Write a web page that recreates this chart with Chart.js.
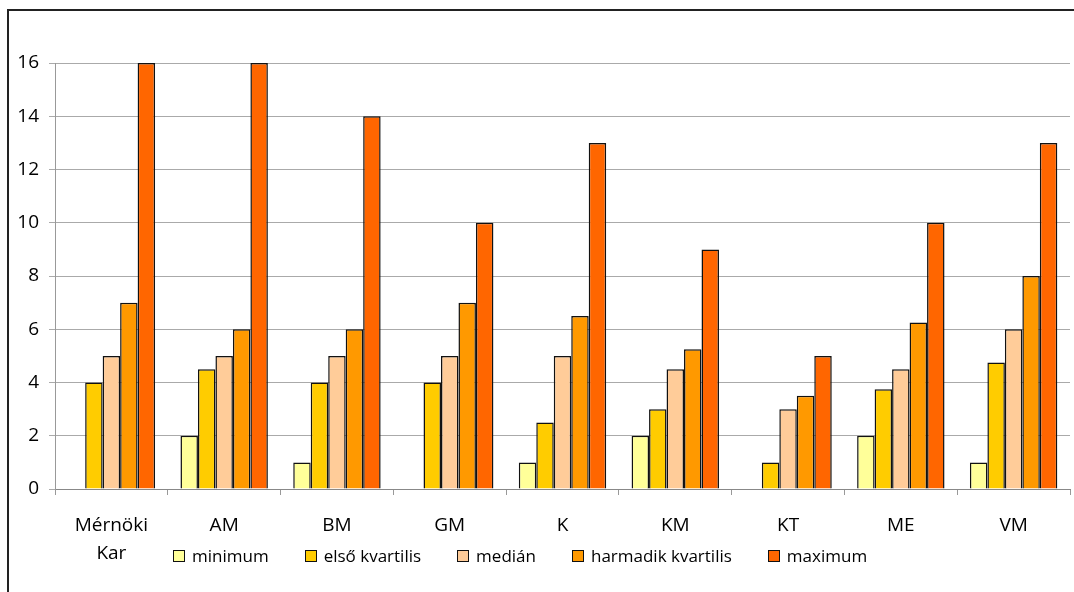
<!DOCTYPE html>
<html>
<head>
<meta charset="utf-8">
<script src="https://cdn.jsdelivr.net/npm/chart.js@4.4.0/dist/chart.umd.min.js"></script>
<style>
  body { margin: 0; background: #fff; }
  #frame {
    position: absolute; left: 7px; top: 9px; width: 1100px; height: 600px;
    border-left: 2px solid #222; border-top: 2px solid #222;
  }
  #wrap { position: absolute; left: 0; top: 0; width: 1074px; height: 592px; }
  #legend {
    position: absolute; left: 173px; top: 546px; display: flex; align-items: center;
    font-family: "Open Sans", sans-serif; font-size: 17px; line-height: 20px; color: #000;
  }
  .item { display: flex; align-items: center; margin-right: 36px; }
  .box { width: 10px; height: 10px; border: 1.5px solid #111; margin-right: 7px; }
</style>
</head>
<body>
<div id="frame"></div>
<div id="wrap"><canvas id="chart" width="1074" height="592"></canvas></div>
<div id="legend"></div>

<script>
// DATA
const categories = [['Mérnöki', 'Kar'], 'AM', 'BM', 'GM', 'K', 'KM', 'KT', 'ME', 'VM'];
const seriesNames = ['minimum', 'első kvartilis', 'medián', 'harmadik kvartilis', 'maximum'];
const minimum = [0, 2, 1, 0, 1, 2, 0, 2, 1];
const firstQuartile = [4, 4.5, 4, 4, 2.5, 3, 1, 3.75, 4.75];
const median = [5, 5, 5, 5, 5, 4.5, 3, 4.5, 6];
const thirdQuartile = [7, 6, 6, 7, 6.5, 5.25, 3.5, 6.25, 8];
const maximum = [16, 16, 14, 10, 13, 9, 5, 10, 13];
const yTicks = [0, 2, 4, 6, 8, 10, 12, 14, 16];
const colors = ['#FFFF99', '#FFCC00', '#FFCC99', '#FF9900', '#FF6600'];

const values = [minimum, firstQuartile, median, thirdQuartile, maximum];
const font = { family: '"Open Sans", sans-serif', size: 19 };

let datasets = seriesNames.map(function (name, i) {
    return {
        label: name,
        data: values[i],
        backgroundColor: colors[i],
        borderColor: '#111',
        borderWidth: 1.5,
        borderSkipped: 'start'
    };
});

let ctx = document.getElementById('chart').getContext('2d');
let chart = new Chart(ctx, {
    type: 'bar',
    data: { labels: categories, datasets: datasets },
    options: {
        responsive: false,
        animation: false,
        layout: { padding: { left: 10, top: 63, right: 4, bottom: 0 } },
        datasets: { bar: { barPercentage: 1, categoryPercentage: 0.775 } },
        plugins: { legend: { display: false }, tooltip: { enabled: false } },
        scales: {
            x: {
                grid: { offset: true, drawOnChartArea: false, color: '#999', tickLength: 6 },
                border: { color: '#888' },
                ticks: { color: '#000', font: { family: font.family, size: 19, lineHeight: 1.47 }, padding: 17, maxRotation: 0 },
                afterFit: function (scale) { scale.height = 103; }
            },
            y: {
                min: 0,
                max: 16,
                afterBuildTicks: function (scale) {
                    scale.ticks = yTicks.map(function (v) { return { value: v }; });
                },
                grid: { color: '#aaa', tickLength: 6 },
                border: { color: '#999' },
                ticks: { color: '#000', font: font, padding: 10 },
                afterFit: function (scale) { scale.width = 45; }
            }
        }
    }
});

// LEGEND
let legendHtml = '';
datasets.forEach(function (d) {
    legendHtml += `<div class="item"><span class="box" style="background:${d.backgroundColor}"></span>${d.label}</div>`;
});
document.getElementById('legend').innerHTML = legendHtml;
</script>
</body>
</html>
